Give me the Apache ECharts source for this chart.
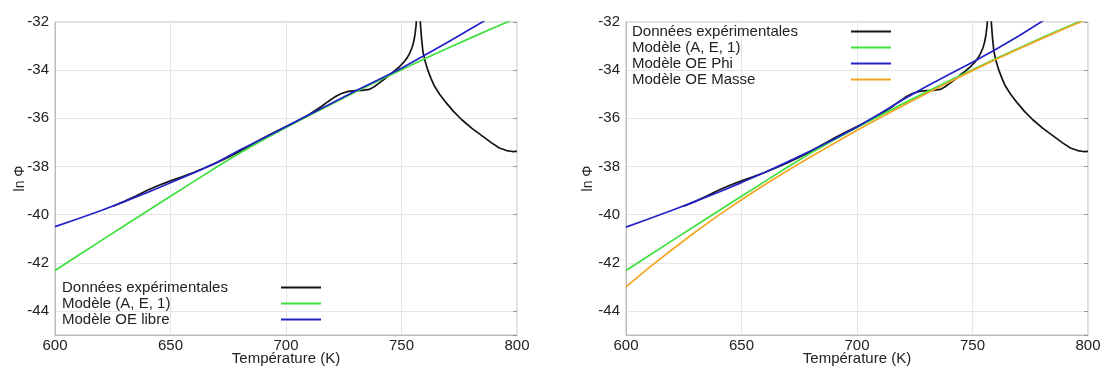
<!DOCTYPE html>
<html><head><meta charset="utf-8">
<script src="https://cdn.jsdelivr.net/npm/echarts@6/dist/echarts.min.js"></script>
<style>html,body{margin:0;padding:0;background:#fff}#c{width:1107px;height:371px}</style>
</head><body><div id="c"></div>
<script>
// ---- data ----
const expT = [625,630,635,640,645,650,655,660,665,670,675,680,685,690,695,700,705,710,715,718,721,724,727,730,733,736,738,740,742.5,745,747,749,751,752.5,753.5,754.5,755.2,755.8,756.3,756.8,757.3,757.7,758.2,758.7,759.3,760.3,761.4,762.8,764.3,766.5,769.4,772.5,776.1,780.5,785.2,789,792.4,795.5,798,800];
const expLnPhi = [-39.65,-39.45,-39.23,-38.99,-38.78,-38.6,-38.43,-38.25,-38.05,-37.84,-37.62,-37.38,-37.1,-36.83,-36.58,-36.34,-36.1,-35.84,-35.53,-35.32,-35.12,-34.97,-34.88,-34.85,-34.84,-34.8,-34.7,-34.56,-34.38,-34.18,-34.03,-33.87,-33.67,-33.48,-33.3,-33.08,-32.85,-32.55,-32.15,-31.5,-30.6,-31.3,-32.1,-32.7,-33.25,-33.65,-34.0,-34.35,-34.67,-35.0,-35.36,-35.71,-36.06,-36.42,-36.75,-37.02,-37.23,-37.34,-37.38,-37.37];
const modelT = [600,610,620,630,640,650,660,670,680,690,700,710,720,730,740,750,760,770,780,790,800];
const modeleAE1 = [-42.32,-41.7,-41.08,-40.46,-39.85,-39.24,-38.63,-38.02,-37.44,-36.9,-36.38,-35.88,-35.39,-34.91,-34.44,-33.98,-33.53,-33.09,-32.66,-32.24,-31.83];
const modeleOELibre = [-40.5,-40.17,-39.83,-39.46,-39.08,-38.68,-38.27,-37.84,-37.32,-36.84,-36.35,-35.85,-35.36,-34.87,-34.4,-33.92,-33.38,-32.84,-32.28,-31.72,-31.15];
const modeleOEPhi = [-40.52,-40.17,-39.82,-39.45,-39.07,-38.67,-38.25,-37.81,-37.35,-36.87,-36.36,-35.8,-35.22,-34.68,-34.17,-33.67,-33.14,-32.58,-31.98,-31.4,-30.8];
const modeleOEMasse = [-43.0,-42.2,-41.45,-40.72,-40.03,-39.38,-38.76,-38.17,-37.6,-37.05,-36.5,-35.98,-35.47,-34.97,-34.49,-34.02,-33.56,-33.12,-32.69,-32.27,-31.87];
const xRange = [600, 800];
const yRange = [-45, -32];
const nameExp = 'Données expérimentales';
const nameAE1 = 'Modèle (A, E, 1)';
const nameLibre = 'Modèle OE libre';
const namePhi = 'Modèle OE Phi';
const nameMasse = 'Modèle OE Masse';
const xName = 'Température (K)';
const yName = 'ln Φ';

// ---- chart ----
const FONT = '"Liberation Sans", Arial, sans-serif';
const TXT = '#222';
const pairs = (xs, ys) => xs.map((x, i) => [x, ys[i]]);

const grids = [
  {left: 55, top: 22, width: 462, height: 313},
  {left: 626, top: 22, width: 462, height: 313}
];
grids.forEach(g => { g.show = true; g.borderColor = '#bdbdbd'; g.borderWidth = 1; g.backgroundColor = 'transparent'; g.containLabel = false; g.outerBoundsMode = 'none'; });

function xAx(gi) {
  return {
    type: 'value', gridIndex: gi, min: xRange[0], max: xRange[1], interval: 50,
    name: xName, nameLocation: 'middle', nameGap: 16, nameMoveOverlap: false,
    nameTextStyle: {fontFamily: FONT, fontSize: 15, color: TXT},
    axisLine: {show: true, lineStyle: {color: '#bdbdbd'}},
    axisTick: {show: false},
    axisLabel: {fontFamily: FONT, fontSize: 15, color: TXT, margin: 3},
    splitLine: {show: true, lineStyle: {color: '#e6e6e6', width: 1}}
  };
}
function yAx(gi, gap) {
  return {
    type: 'value', gridIndex: gi, min: yRange[0], max: yRange[1], splitNumber: 6,
    name: yName, nameLocation: 'middle', nameGap: gap, nameMoveOverlap: false,
    nameTextStyle: {fontFamily: FONT, fontSize: 14, color: TXT},
    axisLine: {show: true, lineStyle: {color: '#bdbdbd'}},
    axisTick: {show: false},
    axisLabel: {fontFamily: FONT, fontSize: 15, color: TXT, margin: 6, showMinLabel: false},
    splitLine: {show: true, lineStyle: {color: '#e6e6e6', width: 1}}
  };
}
function yAxRight(gi) {
  return {
    type: 'value', gridIndex: gi, min: yRange[0], max: yRange[1], splitNumber: 6, position: 'right',
    axisLine: {show: false}, axisLabel: {show: false}, splitLine: {show: false},
    axisTick: {show: true, inside: true, length: 4, lineStyle: {color: '#999'}}
  };
}
function line(name, xs, ys, color, xi, yi) {
  return {
    type: 'line', name, data: pairs(xs, ys), xAxisIndex: xi, yAxisIndex: yi,
    symbol: 'none', smooth: false, clip: true, silent: true, animation: false,
    lineStyle: {color, width: 1.7}, itemStyle: {color}
  };
}
function legend(left, top, names) {
  return {
    left, top, orient: 'vertical', align: 'right', padding: 0,
    icon: 'path://M0,0L40,0L40,2L0,2Z', symbolKeepAspect: true,
    itemWidth: 40, itemHeight: 16, itemGap: 1, selectedMode: false,
    data: names,
    formatter: n => '{t|' + n + '}',
    textStyle: {fontFamily: FONT, fontSize: 15, color: TXT,
      rich: {t: {width: 214, align: 'left', fontFamily: FONT, fontSize: 15, lineHeight: 16, color: TXT}}}
  };
}

const C_BLACK = '#141414', C_GREEN = '#3ee03e', C_BLUE = '#2323c8', C_ORANGE = '#f2a623';

const option = {
  backgroundColor: '#fff',
  animation: false,
  grid: grids,
  xAxis: [xAx(0), xAx(1)],
  yAxis: [yAx(0, 28), yAxRight(0), yAx(1, 31), yAxRight(1)],
  legend: [
    legend(62, 280, [nameExp, nameAE1, nameLibre]),
    legend(632, 24, [nameExp, nameAE1, namePhi, nameMasse])
  ],
  series: [
    line(nameExp, expT, expLnPhi, C_BLACK, 0, 0),
    line(nameAE1, modelT, modeleAE1, C_GREEN, 0, 0),
    line(nameLibre, modelT, modeleOELibre, C_BLUE, 0, 0),
    line(nameExp, expT, expLnPhi, C_BLACK, 1, 2),
    line(nameAE1, modelT, modeleAE1, C_GREEN, 1, 2),
    line(namePhi, modelT, modeleOEPhi, C_BLUE, 1, 2),
    line(nameMasse, modelT, modeleOEMasse, C_ORANGE, 1, 2)
  ]
};
const chart = echarts.init(document.getElementById('c'), null, {renderer: 'canvas'});
chart.setOption(option);
</script></body></html>
